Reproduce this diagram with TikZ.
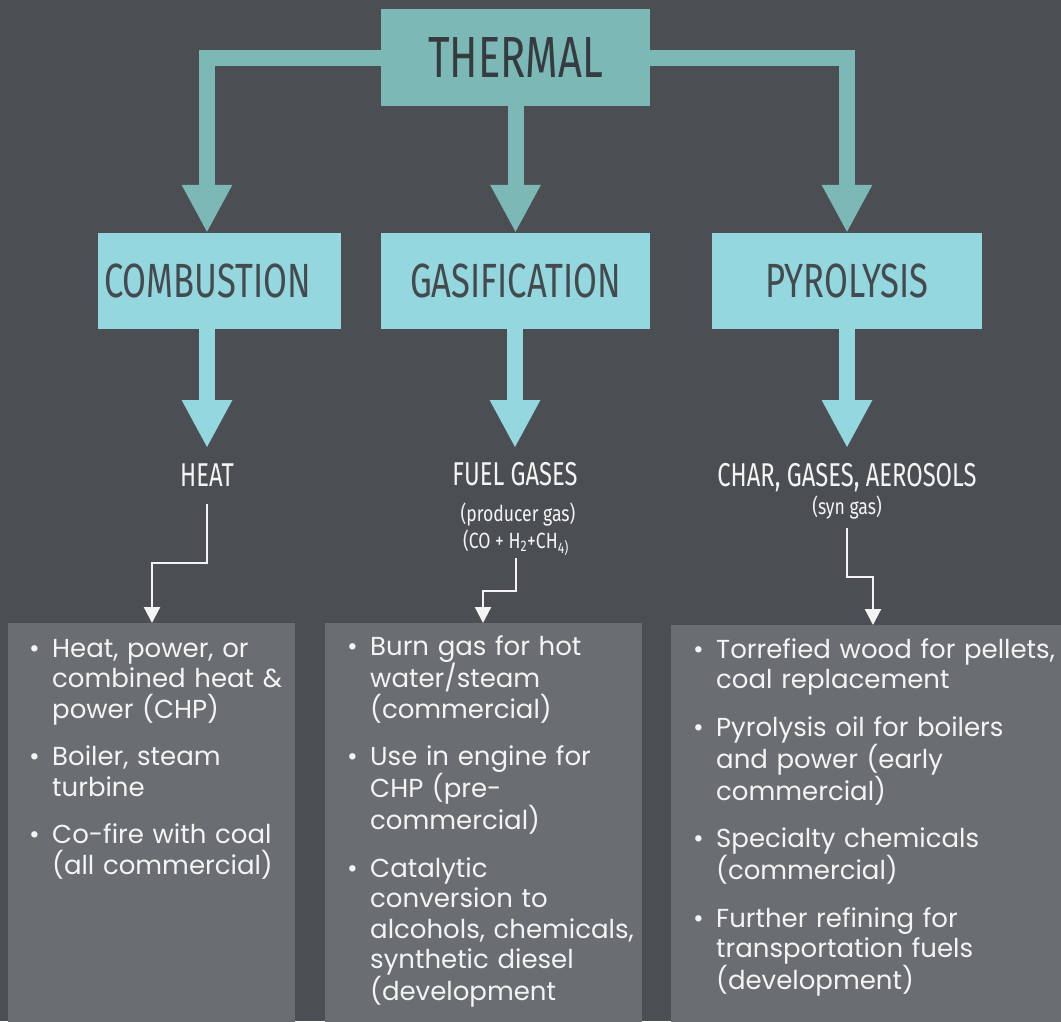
\documentclass[tikz,border=0pt]{standalone}
\usepackage{fontspec}
\setmainfont{Poppins}
\newfontfamily\condfont[FakeStretch=0.72]{Fira Sans}
\newfontfamily\notefont[FakeStretch=0.8]{Fira Sans}
\usetikzlibrary{arrows.meta}

\definecolor{slate}{HTML}{4B4F53}
\definecolor{teal1}{HTML}{7CB9B6}
\definecolor{aqua}{HTML}{94D7DF}
\definecolor{ink}{HTML}{363B3F}
\definecolor{ink2}{HTML}{454A4E}
\definecolor{stone}{HTML}{6A6D71}
\definecolor{snow}{HTML}{F4F4F4}

\newcommand{\bitem}[1]{\par\hangindent=23pt\hangafter=1\noindent\makebox[23pt][l]{\textbullet}#1\par\vspace{17pt}}

\begin{document}
\begin{tikzpicture}[x=1pt,y=-1pt,
		every node/.style={inner sep=0pt},
		mainbox/.style={fill=teal1,text=ink,font=\condfont\fontsize{58}{58}\selectfont,minimum width=269pt,minimum height=97pt},
		procbox/.style={fill=aqua,text=ink2,font=\condfont\fontsize{48}{48}\selectfont,minimum height=96pt},
		product/.style={anchor=base,text=snow,font=\condfont\fontsize{33}{33}\selectfont},
		note/.style={anchor=base,text=snow,font=\notefont\fontsize{22}{22}\selectfont},
		outbox/.style={fill=stone,anchor=north west,minimum height=400pt},
		bullets/.style={anchor=base west,text width=380pt,text=snow,font=\fontsize{26}{30.5}\selectfont},
		bigarrow/.style={draw=teal1,line width=16pt,-{Triangle[width=47pt,length=48pt]}},
		midarrow/.style={draw=aqua,line width=16pt,-{Triangle[width=47pt,length=48pt]}},
		thinarrow/.style={draw=snow,line width=2.2pt,-{Triangle[width=16pt,length=16pt]}}
		]
		\useasboundingbox (0,0) rectangle (1061,1021);
		\fill[slate] (0,0) rectangle (1061,1021);
		
		\node[mainbox] (thermal) at (515.5,57.5) {THERMAL};
		\node[procbox,minimum width=243pt] (comb) at (219.5,281) {\hspace*{-24pt}COMBUSTION};
		\node[procbox,minimum width=269pt] (gasi) at (515.5,281) {GASIFICATION};
		\node[procbox,minimum width=270pt] (pyro) at (847,281) {PYROLYSIS};
		
		\node[product] (heat) at (207,486) {HEAT};
		\node[product] (fuel) at (515,485) {FUEL GASES};
		\node[product] (char) at (847,486) {CHAR, GASES, AEROSOLS};
		\node[note] (producer) at (518,521) {(producer gas)};
		\node[note] (mix) at (516,548) {(CO~+~H\textsubscript{2}+CH\textsubscript{4)}};
		\node[note] (syngas) at (847,514) {(syn gas)};
		
		\node[outbox,minimum width=287pt] (combout) at (8,623) {};
		\node[outbox,minimum width=317pt] (gasout) at (325,623) {};
		\node[outbox,minimum width=390pt] (pyroout) at (671,625) {};
		
		\node[bullets] (combtext) at (29,626.5) {\bitem{Heat, power, or\newline combined heat \&\newline power (CHP)}\bitem{Boiler, steam\newline turbine}\bitem{Co-fire with coal\newline (all commercial)}};
		\node[bullets] (gastext) at (347,624.5) {\bitem{Burn gas for hot\newline water/steam\newline (commercial)}\bitem{Use in engine for\newline CHP (pre-\newline commercial)}\bitem{Catalytic\newline conversion to\newline alcohols, chemicals,\newline synthetic diesel\newline (development}};
		\node[bullets] (pyrotext) at (693,627.5) {\bitem{Torrefied wood for pellets,\newline coal replacement}\bitem{Pyrolysis oil for boilers\newline and power (early\newline commercial)}\bitem{Specialty chemicals\newline (commercial)}\bitem{Further refining for\newline transportation fuels\newline (development)}};
		
		% thick connectors
		\draw[bigarrow] (thermal.west) -| (comb.north -| heat.base);
		\draw[bigarrow] (thermal.south) -- (gasi.north);
		\draw[bigarrow] (thermal.east) -| (pyro.north);
		\draw[midarrow] (comb.south -| heat.base) -- ([yshift=38pt]heat.base);
		\draw[midarrow] (gasi.south -| fuel.base) -- ([yshift=37pt]fuel.base);
		\draw[midarrow] (pyro.south) -- ([yshift=38pt]char.base);
		
		% thin connectors
		\coordinate (hbend) at (152,563);
		\coordinate (fbend) at (483,591);
		\coordinate (sbend) at (873,577);
		\draw[thinarrow] ([yshift=-18pt]heat.base) |- (hbend) -- (hbend |- combout.north);
		\draw[thinarrow] ([yshift=-10pt]mix.base) |- (fbend) -- (fbend |- gasout.north);
		\draw[thinarrow] ([yshift=-14pt]syngas.base) |- (sbend) -- (sbend |- pyroout.north);
\end{tikzpicture}
\end{document}
